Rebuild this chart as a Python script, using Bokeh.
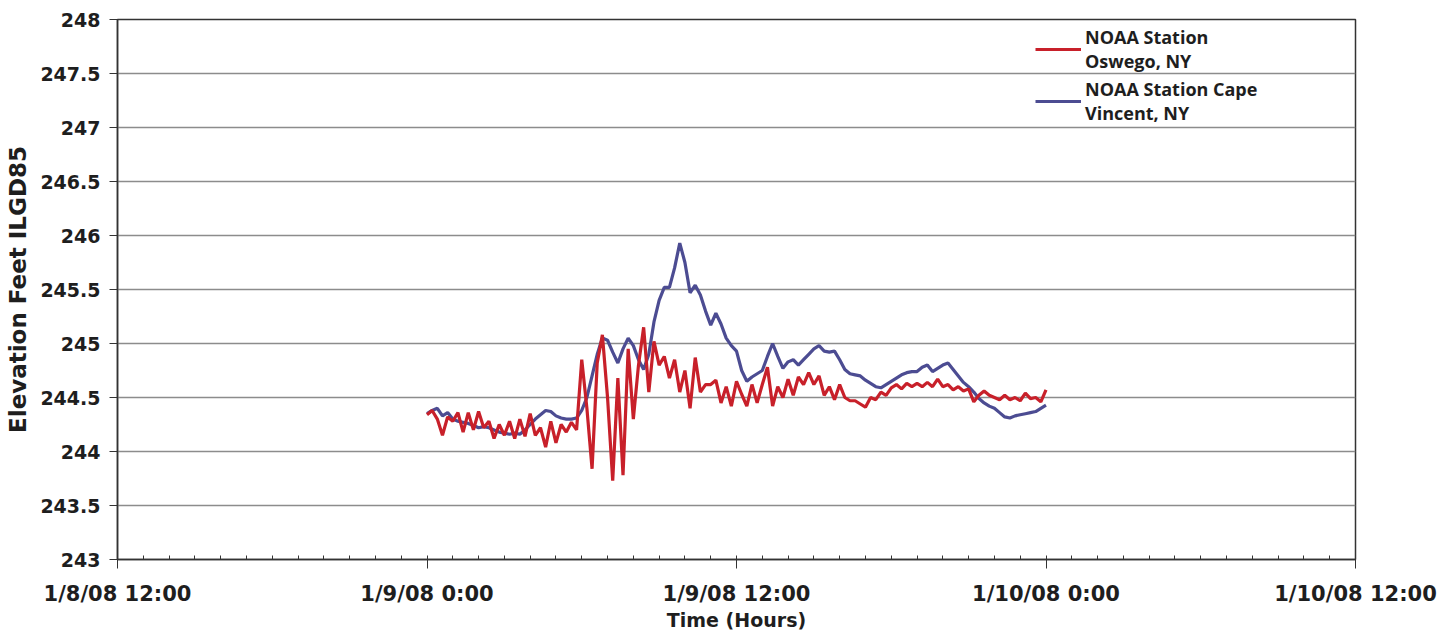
from bokeh.plotting import figure
from bokeh.models import FixedTicker, Legend, LegendItem, Range1d
from bokeh.embed import file_html
from bokeh.resources import INLINE

# Hours measured from 1/8/08 12:00; readings every 12 minutes from 1/9/08 0:00
tick_hours = [0, 12, 24, 36, 48]
tick_labels = ["1/8/08 12:00", "1/9/08 0:00", "1/9/08 12:00", "1/10/08 0:00", "1/10/08 12:00"]
y_ticks = [243, 243.5, 244, 244.5, 245, 245.5, 246, 246.5, 247, 247.5, 248]
y_labels = ["243", "243.5", "244", "244.5", "245", "245.5", "246", "246.5", "247", "247.5", "248"]

oswego = [
    244.34, 244.38, 244.30, 244.15, 244.32, 244.28, 244.36, 244.18, 244.36, 244.20,
    244.37, 244.22, 244.28, 244.12, 244.25, 244.15, 244.28, 244.12, 244.30, 244.14,
    244.35, 244.15, 244.22, 244.04, 244.28, 244.08, 244.25, 244.18, 244.27, 244.20,
    244.85, 244.40, 243.84, 244.82, 245.08, 244.50, 243.73, 244.68, 243.78, 244.95,
    244.30, 244.80, 245.15, 244.55, 245.02, 244.80, 244.88, 244.68, 244.85, 244.55,
    244.75, 244.40, 244.87, 244.55, 244.62, 244.62, 244.66, 244.45, 244.60, 244.42,
    244.65, 244.53, 244.42, 244.62, 244.45, 244.62, 244.78, 244.42, 244.60, 244.50,
    244.67, 244.52, 244.69, 244.62, 244.73, 244.62, 244.70, 244.52, 244.60, 244.48,
    244.62, 244.50, 244.47, 244.47, 244.44, 244.41, 244.50, 244.48, 244.55, 244.52,
    244.59, 244.62, 244.58, 244.63, 244.60, 244.63, 244.60, 244.64, 244.60, 244.67,
    244.60, 244.62, 244.57, 244.60, 244.56, 244.58, 244.46, 244.52, 244.56, 244.52,
    244.50, 244.48, 244.52, 244.48, 244.50, 244.47, 244.54, 244.49, 244.50, 244.46,
    244.57,
]

cape_vincent = [
    244.35, 244.38, 244.40, 244.33, 244.36, 244.30, 244.28, 244.27, 244.26, 244.24,
    244.22, 244.23, 244.22, 244.20, 244.18, 244.17, 244.16, 244.17, 244.16, 244.20,
    244.25, 244.30, 244.34, 244.38, 244.37, 244.33, 244.31, 244.30, 244.30, 244.31,
    244.38, 244.50, 244.70, 244.90, 245.05, 245.03, 244.92, 244.82, 244.95, 245.05,
    244.98, 244.85, 244.76, 244.90, 245.20, 245.40, 245.52, 245.52, 245.70, 245.93,
    245.75, 245.47, 245.54, 245.45, 245.30, 245.17, 245.28, 245.18, 245.05, 244.98,
    244.93, 244.75, 244.65, 244.69, 244.72, 244.75, 244.88, 245.00, 244.88, 244.77,
    244.83, 244.85, 244.80, 244.85, 244.90, 244.95, 244.98, 244.93, 244.92, 244.93,
    244.85, 244.76, 244.72, 244.71, 244.70, 244.66, 244.63, 244.60, 244.59, 244.62,
    244.65, 244.68, 244.71, 244.73, 244.74, 244.74, 244.78, 244.80, 244.74, 244.77,
    244.80, 244.82, 244.76, 244.70, 244.64, 244.60, 244.55, 244.49, 244.45, 244.42,
    244.40, 244.36, 244.32, 244.31, 244.33, 244.34, 244.35, 244.36, 244.37, 244.40,
    244.43,
]

start_hour = 12.0
step_hours = 12 / 60.0
times = [start_hour + i * step_hours for i in range(len(oswego))]

RED = "#c8202a"
BLUE = "#4c4c92"
TICK_FONT = "DejaVu Sans"
TXT = "#1e1e1e"

p = figure(width=1440, height=633, output_backend="svg", toolbar_location=None,
           x_range=Range1d(0, 48), y_range=Range1d(243, 248),
           min_border_left=117, min_border_right=85, min_border_top=19, min_border_bottom=73)
p.background_fill_color = "white"
p.border_fill_color = "white"
p.outline_line_color = "#333333"
p.outline_line_width = 1.5

p.xgrid.visible = False
p.ygrid.grid_line_color = "#8c8c8c"
p.ygrid.grid_line_width = 1.3
p.ygrid.ticker = FixedTicker(ticks=y_ticks)

xa = p.xaxis[0]
xa.ticker = FixedTicker(ticks=tick_hours, minor_ticks=list(range(0, 49)))
xa.major_label_overrides = {t: l for t, l in zip(tick_hours, tick_labels)}
xa.major_tick_out = 9
xa.major_tick_in = 0
xa.minor_tick_in = 4
xa.minor_tick_out = 0
xa.axis_line_color = "#333333"
xa.axis_line_width = 1.5
xa.major_tick_line_color = "#333333"
xa.minor_tick_line_color = "#333333"
xa.major_label_text_font = TICK_FONT
xa.major_label_text_font_style = "bold"
xa.major_label_text_font_size = "21px"
xa.major_label_text_color = TXT
xa.major_label_standoff = 13
xa.axis_label = "Time (Hours)"
xa.axis_label_text_font = TICK_FONT
xa.axis_label_text_font_style = "bold"
xa.axis_label_text_font_size = "19px"
xa.axis_label_text_color = TXT
xa.axis_label_standoff = 0

ya = p.yaxis[0]
ya.ticker = FixedTicker(ticks=y_ticks, minor_ticks=[])
ya.major_label_overrides = {t: l for t, l in zip(y_ticks, y_labels)}
ya.major_tick_out = 8
ya.major_tick_in = 0
ya.minor_tick_out = 0
ya.minor_tick_in = 0
ya.axis_line_color = "#333333"
ya.axis_line_width = 1.5
ya.major_tick_line_color = "#333333"
ya.major_label_text_font = TICK_FONT
ya.major_label_text_font_style = "bold"
ya.major_label_text_font_size = "19px"
ya.major_label_text_color = TXT
ya.major_label_standoff = 9
ya.axis_label = "Elevation Feet ILGD85"
ya.axis_label_text_font = TICK_FONT
ya.axis_label_text_font_style = "bold"
ya.axis_label_text_font_size = "23px"
ya.axis_label_text_color = TXT
ya.axis_label_standoff = 6

r_blue = p.line(times, cape_vincent, line_color=BLUE, line_width=3.2)
r_red = p.line(times, oswego, line_color=RED, line_width=3.2)

legend = Legend(items=[
    LegendItem(label="NOAA Station\nOswego, NY", renderers=[r_red]),
    LegendItem(label="NOAA Station Cape\nVincent, NY", renderers=[r_blue]),
])
legend.border_line_alpha = 0
legend.background_fill_alpha = 0
legend.label_text_font = "Open Sans"
legend.label_text_font_style = "bold"
legend.label_text_font_size = "18px"
legend.label_text_color = TXT
legend.glyph_width = 46
legend.label_standoff = 4
legend.padding = 0
legend.spacing = 4
legend.margin = 0
legend.location = (918, 434)
p.add_layout(legend)

open("out.html", "w").write(file_html(p, INLINE))
